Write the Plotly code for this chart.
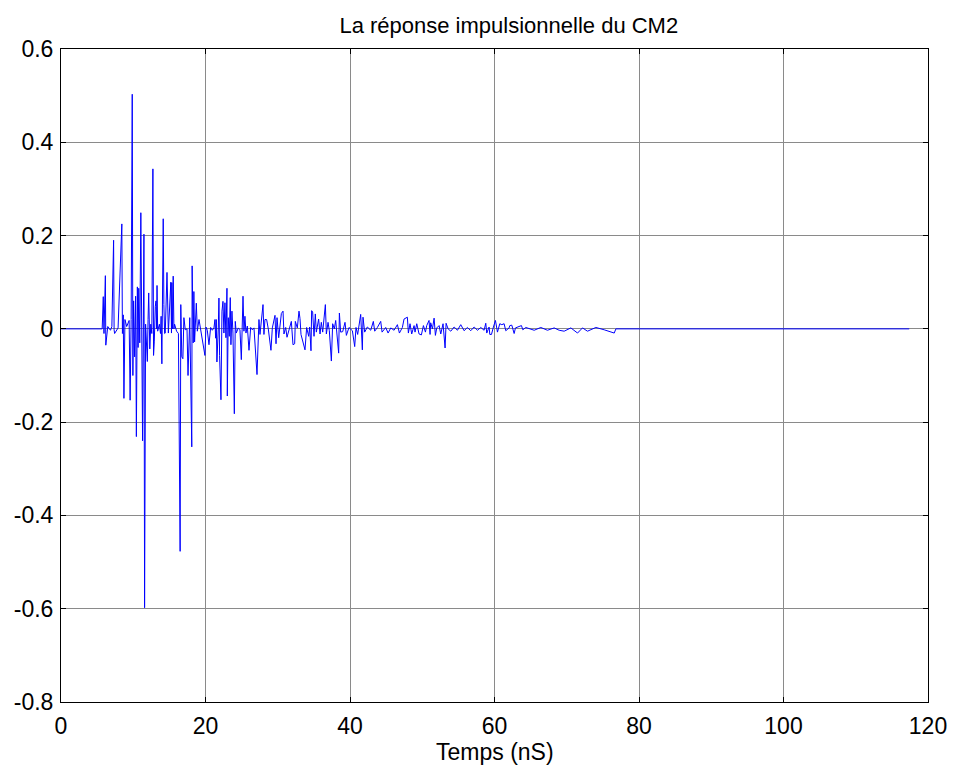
import plotly.graph_objects as go

# Time axis (ns) and impulse response amplitude
t_ns = [0.0, 5.7, 5.85, 5.95, 6.14, 6.2, 6.47, 6.85, 7.04, 7.28, 7.35, 7.42, 7.9,
        8.42, 8.5, 8.62, 8.71, 8.85, 9.09, 9.43, 9.57, 9.71, 9.86, 9.95, 10.05,
        10.19, 10.33, 10.43, 10.57, 10.67, 10.76, 10.9, 11.05, 11.14, 11.29, 11.48,
        11.57, 11.71, 11.95, 12.05, 12.14, 12.29, 12.43, 12.57, 12.72, 12.81, 12.91,
        13.05, 13.15, 13.24, 13.29, 13.38, 13.62, 13.77, 13.86, 13.96, 14.15, 14.24,
        14.34, 14.43, 14.67, 14.77, 14.86, 15.2, 15.29, 15.34, 15.44, 15.53, 15.63,
        15.72, 16.0, 16.25, 16.49, 16.58, 16.72, 16.87, 17.01, 17.2, 17.44, 17.58,
        17.82, 17.96, 18.1, 18.15, 18.3, 18.39, 18.49, 18.73, 18.87, 19.1,
        19.92, 20.06, 20.25, 20.48, 20.71, 20.94, 21.17, 21.31, 21.4, 21.49, 21.58,
        21.77, 21.86, 21.95, 22.14, 22.28, 22.42, 22.55, 22.69, 22.83, 22.97, 23.02,
        23.15, 23.29, 23.43, 23.52, 23.66, 23.8, 23.99, 24.12, 24.26, 24.54, 24.77,
        24.96, 25.19, 25.32, 25.46, 25.6, 25.79, 26.02, 26.25, 26.48, 26.71, 27.13,
        27.4, 27.54, 27.73, 27.96, 28.09, 28.23, 28.46, 28.69, 29.06, 29.25, 29.62,
        29.76, 29.9, 30.13, 30.5, 30.73, 30.86, 31.1, 31.28, 31.65, 31.88, 32.11,
        32.34, 32.43, 32.71, 32.94, 33.08, 33.22,
        33.77, 34.0, 34.28, 34.42, 34.6, 34.69, 34.83, 35.02, 35.2, 35.34, 35.66,
        35.85, 36.03, 36.22, 36.59, 36.73, 36.96, 37.14, 37.42, 37.6, 37.83, 38.02,
        38.25, 38.43, 38.53, 38.71, 38.99, 39.31, 39.5, 39.86, 40.33, 40.65, 40.83,
        41.06, 41.48, 41.71, 41.8, 42.03, 42.4, 42.87, 43.23, 43.42, 43.79, 44.25,
        44.44, 44.94, 45.27, 45.64, 46.1, 46.56, 46.84, 47.25, 47.48, 47.94,
        48.08, 48.31, 48.54, 48.87, 49.0, 49.24, 49.56, 49.88, 50.16, 50.44, 50.62,
        50.94, 51.08, 51.17, 51.41, 51.64, 51.82, 52.01, 52.33, 52.56, 52.88, 53.16,
        53.3, 53.58, 53.95, 54.41, 54.87, 55.33, 55.79, 56.25, 56.71, 57.18, 57.64,
        58.1, 58.56, 58.79, 58.93, 59.25, 59.35, 59.58, 59.85, 60.13, 60.41, 60.73,
        61.01, 61.33, 61.56, 62.02, 62.12, 62.39, 62.72, 62.9, 63.73, 63.92, 64.33,
        65.49, 66.41, 67.33, 68.26, 68.95, 69.64, 70.57, 71.49, 72.18, 72.87, 74.03,
        75.18, 76.57, 76.8, 117.4]

h_amp = [0.0, 0.0, 0.069, -0.01, 0.114, -0.035, 0.005, -0.003, 0.005, 0.19, -0.002, -0.01, 0.002,
         0.225, -0.01, 0.03, -0.149, 0.02, 0.005, 0.018, -0.153, 0.02, 0.503, -0.10, 0.06,
         -0.06, 0.07, -0.231, 0.09, -0.04, 0.087, -0.03, 0.249, -0.057, -0.24, 0.203,
         -0.598, 0.01, -0.07, 0.02, 0.077, -0.043, 0.01, -0.01, 0.343, -0.057, -0.028,
         0.048, 0.06, 0.0, 0.093, -0.005, 0.01, -0.01, 0.027, -0.075, 0.236, 0.052,
         -0.01, -0.009, 0.121, 0.0, -0.009, 0.10, -0.009, 0.099, 0.0, 0.113, 0.0,
         0.01, -0.005, -0.01, -0.477, 0.052, -0.06, -0.064, 0.024, -0.002, 0.0, -0.10,
         0.024, -0.081, -0.253, 0.135, -0.03, 0.08, -0.028, 0.055, -0.005, 0.02,
         -0.057, 0.004, -0.003, -0.034, 0.003, -0.003, 0.002, 0.02, -0.02, 0.02, -0.071,
         0.002, 0.066, -0.057, -0.152, 0.038, 0.059, -0.009, 0.056, -0.019, 0.087, -0.144,
         0.024, -0.016, 0.067, -0.034, 0.038, -0.009, -0.182, 0.016, -0.009, 0.002, -0.002,
         -0.066, 0.07, -0.005, 0.027, -0.009, 0.006, -0.046, 0.003, -0.002, 0.002, -0.098,
         0.02, -0.012, 0.02, 0.052, -0.012, 0.02, 0.02, 0.0, -0.046, 0.002, 0.029,
         -0.032, 0.024, -0.019, 0.033, 0.038, -0.011, 0.003, -0.018, 0.002, 0.016, -0.034,
         -0.032, 0.016, 0.002, 0.038, 0.022, -0.012,
         -0.045, 0.003, -0.016, 0.004, -0.047, 0.039, 0.036, -0.016, 0.032, -0.007, 0.021,
         -0.011, 0.014, -0.007, 0.052, -0.011, 0.014, -0.004, -0.069, 0.011, 0.0, 0.018,
         -0.018, -0.052, 0.034, -0.007, -0.006, 0.014, -0.014, 0.003, -0.004, -0.038, 0.003,
         -0.012, 0.031, -0.045, 0.025, -0.007, 0.004, -0.003, 0.016, -0.005, 0.003, 0.016,
         -0.007, 0.003, -0.009, 0.002, -0.003, 0.009, -0.009, 0.003, 0.021, 0.025,
         -0.009, 0.011, -0.011, 0.007, -0.007, 0.011, -0.011, -0.013, 0.007, -0.007, 0.007,
         0.018, -0.012, 0.013, 0.0, 0.023, -0.014, 0.002, 0.007, -0.011, 0.011, -0.041,
         0.012, 0.0, -0.005, 0.004, -0.003, 0.009, -0.004, 0.003, -0.004, 0.004, -0.003,
         0.003, -0.003, 0.012, -0.009, 0.004, -0.012, -0.012, 0.004, 0.018, -0.007, 0.011,
         0.009, 0.011, -0.004, 0.002, 0.007, 0.008, -0.010, 0.002, 0.007, -0.002, 0.003,
         -0.003, 0.003, -0.003, 0.002, -0.003, -0.005, 0.002, -0.009, 0.002, -0.005, 0.003,
         -0.002, -0.009, 0.0, 0.0]

x_ticks = [0, 20, 40, 60, 80, 100, 120]
x_tick_text = ["0", "20", "40", "60", "80", "100", "120"]
y_ticks = [0.6, 0.4, 0.2, 0.0, -0.2, -0.4, -0.6, -0.8]
y_tick_text = ["0.6", "0.4", "0.2", "0", "-0.2", "-0.4", "-0.6", "-0.8"]

title_text = "La réponse impulsionnelle du CM2"
x_label = "Temps (nS)"

FONT = "Liberation Sans, Arial, Helvetica, sans-serif"

fig = go.Figure()
fig.add_trace(go.Scatter(x=t_ns, y=h_amp, mode="lines",
                         line=dict(color="#0000FF", width=1), showlegend=False,
                         hoverinfo="x+y"))

axis_common = dict(
    showline=True, linecolor="black", linewidth=1, mirror="ticks",
    ticks="inside", ticklen=5, tickcolor="black", tickwidth=1,
    showgrid=True, gridcolor="#8a8a8a", gridwidth=1,
    zeroline=False, tickfont=dict(family=FONT, size=23, color="black"),
)

fig.update_xaxes(range=[0, 120], tickvals=x_ticks, ticktext=x_tick_text,
                 ticklabelstandoff=3, **axis_common)
fig.update_yaxes(range=[-0.8, 0.6], tickvals=y_ticks, ticktext=y_tick_text,
                 ticklabelstandoff=2, **axis_common)

# page body has an 8px margin, so the figure is drawn 8px smaller
W, H = 950, 767
fig.update_layout(
    width=W, height=H,
    margin=dict(l=53, r=30, t=41, b=73, autoexpand=False),
    paper_bgcolor="white", plot_bgcolor="white",
    font=dict(family=FONT, color="black"),
    title=dict(text=title_text, x=0.5165, xanchor="center", xref="paper",
               y=1 - 17 / H, yanchor="middle", yref="container",
               font=dict(family=FONT, size=22, color="black")),
    annotations=[dict(text=x_label, xref="paper", yref="paper", x=0.5,
                      y=-50 / 653, xanchor="center", yanchor="middle",
                      showarrow=False,
                      font=dict(family=FONT, size=23, color="black"))],
)

fig.write_html("out.html")
